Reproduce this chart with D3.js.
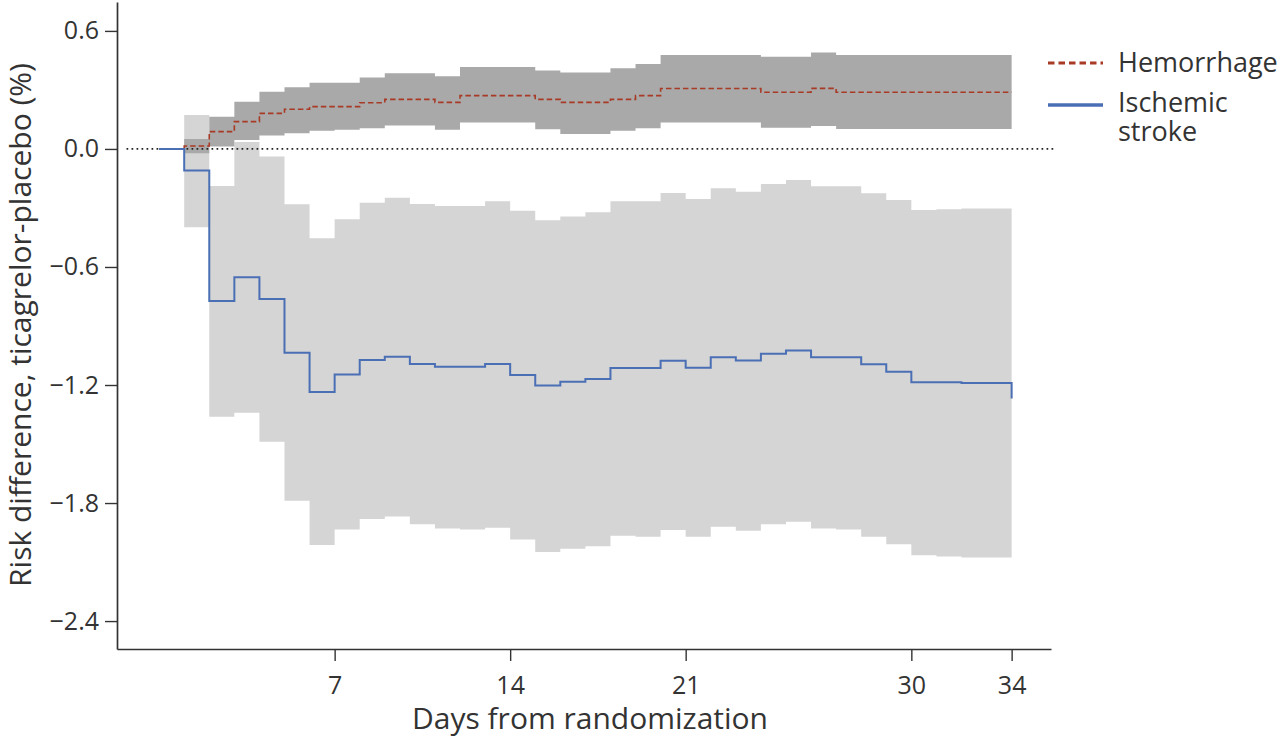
<!DOCTYPE html>
<html lang="en">
<head>
    <meta charset="UTF-8">
    <title>Risk difference, ticagrelor-placebo</title>
    <script src="https://d3js.org/d3.v7.min.js"></script>
    <style>
        body { margin: 0; background: #fff; }
        text { font-family: "Open Sans", sans-serif; fill: #333; }
    </style>
</head>
<body>
    <div id="chart"></div>
    <script>
        // days since randomization (step starts)
        const days = [0, 1, 2, 3, 4, 5, 6, 7, 8, 9, 10, 11, 12, 13, 14, 15, 16, 17,
            18, 19, 20, 21, 22, 23, 24, 25, 26, 27, 28, 29, 30, 31, 32, 33, 34];

        // ischemic stroke risk difference and its CI
        const ischemic = [0, -0.11, -0.773, -0.652, -0.763, -1.036, -1.236, -1.146, -1.073, -1.056,
            -1.093, -1.107, -1.107, -1.093, -1.149, -1.203, -1.183, -1.169, -1.113, -1.113,
            -1.077, -1.112, -1.059, -1.076, -1.041, -1.024, -1.059, -1.059, -1.095, -1.132,
            -1.186, -1.186, -1.19, -1.19, -1.268];
        const ischemicHi = [null, 0.173, -0.188, 0.035, -0.039, -0.281, -0.454, -0.357, -0.273, -0.248,
            -0.28, -0.29, -0.29, -0.266, -0.314, -0.363, -0.344, -0.322, -0.266, -0.266,
            -0.224, -0.254, -0.2, -0.217, -0.178, -0.158, -0.19, -0.19, -0.225, -0.259,
            -0.31, -0.307, -0.303, -0.303, -0.303];
        const ischemicLo = [null, -0.398, -1.361, -1.341, -1.488, -1.788, -2.013, -1.934, -1.881, -1.869,
            -1.908, -1.929, -1.934, -1.925, -1.985, -2.049, -2.032, -2.02, -1.966, -1.972,
            -1.937, -1.972, -1.92, -1.941, -1.908, -1.895, -1.929, -1.934, -1.972, -2.01,
            -2.066, -2.072, -2.077, -2.077, -2.077];

        // hemorrhage risk difference and its CI
        const hemorrhage = [0, 0.015, 0.088, 0.139, 0.181, 0.202, 0.215, 0.215, 0.235, 0.252,
            0.252, 0.237, 0.271, 0.271, 0.271, 0.252, 0.237, 0.237, 0.252, 0.271,
            0.307, 0.307, 0.307, 0.307, 0.288, 0.288, 0.308, 0.288, 0.288, 0.288,
            0.288, 0.288, 0.288, 0.288, 0.288];
        const hemorrhageHi = [null, 0.051, 0.164, 0.24, 0.291, 0.314, 0.337, 0.337, 0.363, 0.385,
            0.385, 0.37, 0.416, 0.416, 0.416, 0.399, 0.389, 0.389, 0.41, 0.432,
            0.478, 0.478, 0.478, 0.478, 0.469, 0.469, 0.49, 0.478, 0.478, 0.478,
            0.478, 0.478, 0.478, 0.478, 0.478];
        const hemorrhageLo = [null, -0.022, 0.012, 0.046, 0.068, 0.08, 0.093, 0.097, 0.105, 0.119,
            0.119, 0.097, 0.134, 0.134, 0.134, 0.1, 0.076, 0.076, 0.093, 0.105,
            0.134, 0.134, 0.134, 0.134, 0.108, 0.108, 0.117, 0.102, 0.102, 0.102,
            0.102, 0.102, 0.102, 0.102, 0.102];

        const xTicks = [7, 14, 21, 30, 34];
        const yTicks = [0.6, 0, -0.6, -1.2, -1.8, -2.4];

        const width = 1280;
        const height = 740;
        const margin = { top: 2, right: 229, bottom: 91, left: 117 };

        const svg = d3.select('#chart')
            .append('svg')
            .attr('width', width)
            .attr('height', height);

        const x = d3.scaleLinear()
            .domain([-1.68, 35.57])
            .range([margin.left, width - margin.right]);
        const y = d3.scaleLinear()
            .domain([-2.542, 0.747])
            .range([height - margin.bottom, margin.top]);

        const rows = days.map((d, i) => ({
            day: d,
            isc: ischemic[i], iscHi: ischemicHi[i], iscLo: ischemicLo[i],
            hem: hemorrhage[i], hemHi: hemorrhageHi[i], hemLo: hemorrhageLo[i]
        }));

        const band = (hi, lo) => d3.area()
            .defined(d => d[hi] != null)
            .curve(d3.curveStepAfter)
            .x(d => x(d.day))
            .y0(d => y(d[lo]))
            .y1(d => y(d[hi]));

        const line = key => d3.line()
            .curve(d3.curveStepAfter)
            .x(d => x(d.day))
            .y(d => y(d[key]));

        // confidence bands
        svg.append('path')
            .datum(rows)
            .attr('fill', '#d5d5d5')
            .attr('d', band('iscHi', 'iscLo'));
        svg.append('path')
            .datum(rows)
            .attr('fill', '#a9a9a9')
            .attr('d', band('hemHi', 'hemLo'));

        // zero reference
        svg.append('line')
            .attr('x1', x(-1.3))
            .attr('x2', x(35.7))
            .attr('y1', y(0))
            .attr('y2', y(0))
            .attr('stroke', '#222')
            .attr('stroke-width', 1.7)
            .attr('stroke-dasharray', '1.7,3.3');

        svg.append('path')
            .datum(rows)
            .attr('fill', 'none')
            .attr('stroke', '#a83a26')
            .attr('stroke-width', 1.6)
            .attr('stroke-dasharray', '5.5,3')
            .attr('d', line('hem'));
        svg.append('path')
            .datum(rows)
            .attr('fill', 'none')
            .attr('stroke', '#4a6fb5')
            .attr('stroke-width', 2)
            .attr('d', line('isc'));

        // axes
        const xAxis = svg.append('g')
            .attr('transform', `translate(0,${height - margin.bottom})`)
            .call(d3.axisBottom(x).tickValues(xTicks).tickSize(12).tickSizeOuter(0).tickPadding(15));
        const yAxis = svg.append('g')
            .attr('transform', `translate(${margin.left},0)`)
            .call(d3.axisLeft(y).tickValues(yTicks).tickSize(12).tickSizeOuter(0).tickPadding(6)
                .tickFormat(d3.format('.1f')));

        [xAxis, yAxis].forEach(g => {
            g.selectAll('.domain').attr('stroke', '#333').attr('stroke-width', 1.7);
            g.selectAll('.tick line').attr('stroke', '#333').attr('stroke-width', 1.4);
            g.selectAll('.tick text')
                .attr('fill', '#333')
                .style('font-family', '"Open Sans", sans-serif')
                .style('font-size', '25px');
        });

        svg.append('text')
            .attr('x', 590)
            .attr('y', 729)
            .attr('text-anchor', 'middle')
            .style('font-size', '30px')
            .text('Days from randomization');

        svg.append('text')
            .attr('transform', 'translate(31,325) rotate(-90)')
            .attr('text-anchor', 'middle')
            .style('font-size', '30px')
            .text('Risk difference, ticagrelor-placebo (%)');

        // legend
        const legend = svg.append('g');
        legend.append('line')
            .attr('x1', 1048).attr('x2', 1103)
            .attr('y1', 63).attr('y2', 63)
            .attr('stroke', '#a83a26')
            .attr('stroke-width', 3)
            .attr('stroke-dasharray', '6.5,4');
        legend.append('text')
            .attr('x', 1118).attr('y', 72)
            .style('font-size', '27px')
            .text('Hemorrhage');
        legend.append('line')
            .attr('x1', 1048).attr('x2', 1103)
            .attr('y1', 105).attr('y2', 105)
            .attr('stroke', '#4a6fb5')
            .attr('stroke-width', 3.5);
        legend.append('text')
            .attr('x', 1118).attr('y', 112)
            .style('font-size', '27px')
            .text('Ischemic');
        legend.append('text')
            .attr('x', 1118).attr('y', 141)
            .style('font-size', '27px')
            .text('stroke');
    </script>
</body>
</html>
